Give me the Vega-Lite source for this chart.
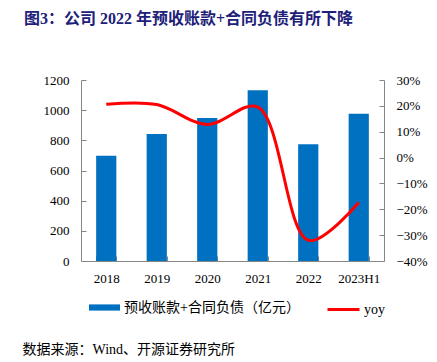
{
  "$schema": "https://vega.github.io/schema/vega-lite/v6.json",
  "width": 303,
  "height": 181,
  "autosize": {"type": "none"},
  "padding": {"left": 81, "top": 80, "right": 53, "bottom": 101},
  "background": "white",
  "title": {
    "text": "图3：公司 2022 年预收账款+合同负债有所下降",
    "anchor": "start",
    "frame": "group",
    "dx": -57,
    "offset": 47,
    "font": "Liberation Serif, Noto Sans CJK SC",
    "fontSize": 16,
    "fontWeight": "bold",
    "color": "#202078"
  },
  "data": {
    "values": [
      {"year": "2018", "amount": 698, "yoy": 0.206},
      {"year": "2019", "amount": 842, "yoy": 0.205},
      {"year": "2020", "amount": 948, "yoy": 0.128},
      {"year": "2021", "amount": 1132, "yoy": 0.195},
      {"year": "2022", "amount": 774, "yoy": -0.32},
      {"year": "2023H1", "amount": 977, "yoy": -0.174}
    ]
  },
  "config": {
    "view": {"stroke": null},
    "axis": {
      "labelFont": "Liberation Serif",
      "labelFontSize": 13,
      "labelColor": "#000000",
      "domainColor": "#868686",
      "tickColor": "#868686",
      "grid": false,
      "title": null
    }
  },
  "encoding": {
    "x": {
      "field": "year",
      "type": "nominal",
      "sort": null,
      "scale": {"paddingInner": 0.6, "paddingOuter": 0.3},
      "axis": {
        "labelAngle": 0,
        "tickBand": "extent",
        "tickSize": -5,
        "labelPadding": 16,
        "title": "数据来源：Wind、开源证券研究所",
        "titleX": -59,
        "titleY": 88,
        "titleAlign": "left",
        "titleAnchor": "start",
        "titleBaseline": "middle",
        "titleFont": "Liberation Serif, Noto Sans CJK SC",
        "titleFontSize": 14,
        "titleFontWeight": "normal",
        "titleColor": "#000000"
      }
    }
  },
  "layer": [
    {
      "mark": {"type": "bar", "color": "#0070C0"},
      "encoding": {
        "y": {
          "field": "amount",
          "type": "quantitative",
          "scale": {"domain": [0, 1200], "nice": false},
          "axis": {
            "values": [0, 200, 400, 600, 800, 1000, 1200],
            "format": "d",
            "tickSize": -5,
            "labelPadding": 17,
            "orient": "left"
          }
        },
        "fill": {
          "datum": "预收账款+合同负债（亿元）",
          "type": "nominal",
          "scale": {"range": ["#0070C0"]},
          "legend": {
            "orient": "none",
            "legendX": 8,
            "legendY": 212,
            "padding": 0,
            "symbolType": "M-1,-0.2H1V0.2H-1Z",
            "symbolSize": 961,
            "symbolStrokeWidth": 0,
            "labelOffset": 4,
            "labelFont": "Liberation Serif, Noto Sans CJK SC",
            "labelFontSize": 14,
            "labelColor": "#000000",
            "labelLimit": 300,
            "title": null
          }
        }
      }
    },
    {
      "mark": {"type": "line", "color": "#FF0000", "strokeWidth": 3, "interpolate": "catmull-rom"},
      "encoding": {
        "y": {
          "field": "yoy",
          "type": "quantitative",
          "scale": {"domain": [-0.4, 0.3], "nice": false},
          "axis": {
            "values": [-0.4, -0.3, -0.2, -0.1, 0, 0.1, 0.2, 0.3],
            "format": ".0%",
            "tickSize": -5,
            "labelPadding": 17,
            "orient": "right"
          }
        },
        "stroke": {
          "datum": "yoy",
          "type": "nominal",
          "scale": {"range": ["#FF0000"]},
          "legend": {
            "orient": "none",
            "legendX": 245,
            "legendY": 212,
            "padding": 0,
            "symbolType": "stroke",
            "symbolSize": 1024,
            "symbolStrokeWidth": 3,
            "labelOffset": 3,
            "labelFont": "Liberation Serif",
            "labelFontSize": 14,
            "labelColor": "#000000",
            "title": null
          }
        }
      }
    }
  ],
  "resolve": {"scale": {"y": "independent"}}
}
